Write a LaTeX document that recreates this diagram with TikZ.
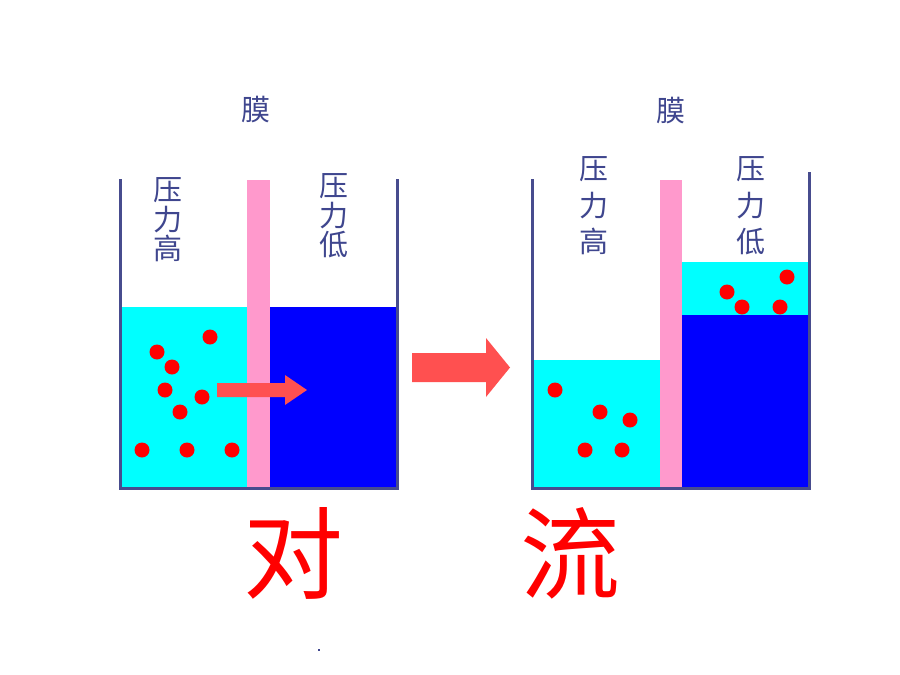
\documentclass[tikz,border=0pt]{standalone}
\usepackage{fontspec}
\newfontfamily\cjk{Noto Sans CJK SC}
\definecolor{wallc}{HTML}{474C8E}
\definecolor{txtc}{HTML}{3F468E}
\definecolor{memc}{HTML}{FF99CC}
\definecolor{cyanc}{HTML}{00FFFF}
\definecolor{bluec}{HTML}{0000FF}
\definecolor{arrc}{HTML}{FF5050}
\definecolor{dotc}{HTML}{FF0000}
\tikzset{
  wall/.style={draw=wallc, line width=3pt, line cap=rect},
  lab/.style={font=\cjk\fontsize{29}{35}\selectfont, text=txtc, align=center, inner sep=0pt},
  labtight/.style={lab, font=\cjk\fontsize{29}{29.5}\selectfont},
  labwide/.style={lab, font=\cjk\fontsize{29}{36.5}\selectfont},
  big/.style={font=\cjk\fontsize{100}{100}\selectfont, text=dotc, inner sep=0pt},
  dot/.style={fill=dotc, draw=none}
}
\begin{document}
\begin{tikzpicture}[x=1pt,y=-1pt]
\useasboundingbox (0,0) rectangle (900,675);
% ---------- left beaker ----------
\fill[cyanc] (120,307) rectangle (247,488);
\fill[bluec] (270,307) rectangle (397,488);
\fill[memc] (247,180) rectangle (270,488);
\draw[wall] (120,180) -- (120,488) -- (397,488) -- (397,180);
\foreach \p in {(210,337),(157,352),(172,367),(165,390),(202,397),(180,412),(142,450),(187,450),(232,450)}
  \fill[dot] \p circle (7.5);
\fill[arrc] (217,383) -- (285,383) -- (285,375) -- (307,390) -- (285,405) -- (285,397) -- (217,397) -- cycle;
\node[lab] (membL) at (256,110) {膜};
\node[labtight] (highL) at (168,220) {压\\力\\高};
\node[labtight] (lowL) at (334,216) {压\\力\\低};
% ---------- big arrow ----------
\fill[arrc] (412,353) -- (486,353) -- (486,338) -- (510,367.5) -- (486,397) -- (486,382) -- (412,382) -- cycle;
% ---------- right beaker ----------
\fill[cyanc] (532,360) rectangle (660,488);
\fill[cyanc] (682,262) rectangle (809,315);
\fill[bluec] (682,315) rectangle (809,488);
\fill[memc] (660,180) rectangle (682,488);
\draw[wall] (532,180) -- (532,488) -- (809,488) -- (809,173);
\foreach \p in {(555,390),(600,412),(630,420),(585,450),(622,450),(787,277),(727,292),(742,307),(780,307)}
  \fill[dot] \p circle (7.5);
\node[lab] (membR) at (671,111) {膜};
\node[labwide] (highR) at (594,206) {压\\力\\高};
\node[labwide] (lowR) at (751,206) {压\\力\\低};
% ---------- title characters ----------
\node[big] (dui) at (293,553) {对};
\node[big] (liu) at (570,553) {流};
\fill[txtc] (318,649) rectangle (320,651);
\end{tikzpicture}
\end{document}
